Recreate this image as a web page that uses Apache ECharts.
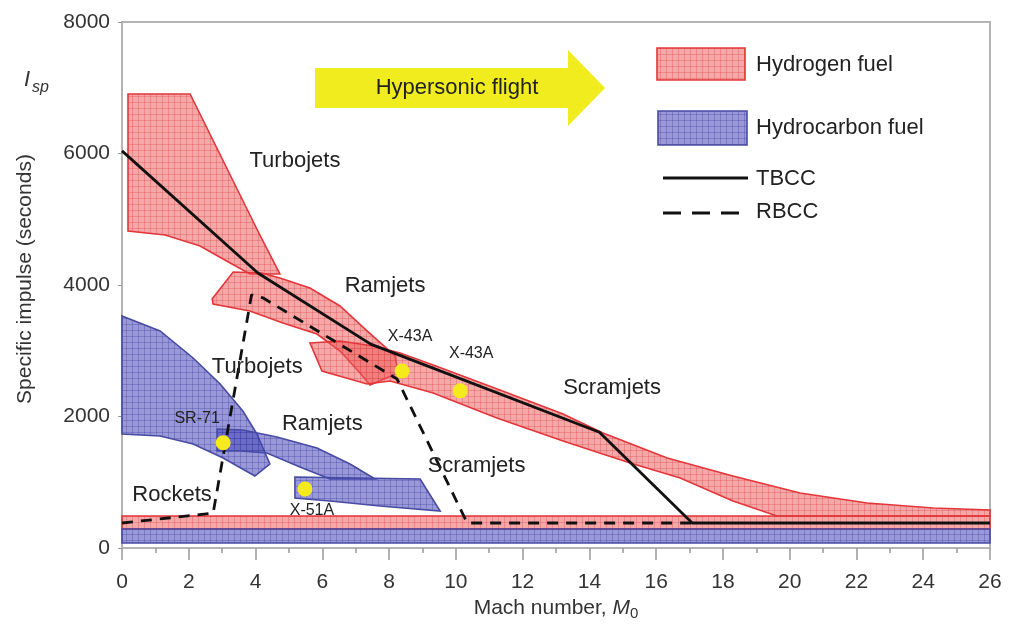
<!DOCTYPE html>
<html><head><meta charset="utf-8">
<script src="https://cdn.jsdelivr.net/npm/echarts@6/dist/echarts.min.js"></script>
<style>html,body{margin:0;padding:0;background:#fff}#c{width:1011px;height:629px}</style>
</head><body><div id="c"></div>
<script>
// ---- data (Mach number, specific impulse in seconds) ----
const h2Turbojet = [[0.18,6905],[2.04,6905],[4.04,4852],[4.1,4790],[4.73,4168],[3.83,4168],[3.24,4335],[2.34,4593],[1.29,4761],[0.18,4822]];
const h2Ramjet = [[3.33,4198],[4.19,4183],[4.73,4107],[5.63,3955],[6.53,3681],[7.34,3301],[8.18,2920],[8.27,2662],[7.43,2479],[7.13,2662],[6.53,2996],[5.84,3255],[4.82,3422],[3.83,3605],[2.73,3711],[2.7,3787]];
const h2Scramjet = [[5.63,3118],[6.53,3148],[7.52,3072],[8.33,2966],[9.32,2783],[11.32,2403],[13.21,2038],[14.41,1749],[16.33,1369],[18.3,1095],[20.31,837],[22.32,684],[24.3,608],[26,578],[26,487],[19.62,487],[18.3,715],[16.72,1065],[15.22,1293],[13.21,1627],[11.23,1977],[9.32,2358],[8.03,2540],[7.34,2494],[5.99,2692]];
const h2Rocket = [[0,487],[26,487],[26,289],[0,289]];
const hcRocket = [[0,289],[26,289],[26,76],[0,76]];
const hcTurbojet = [[0,3529],[1.14,3301],[2.13,2890],[2.94,2494],[3.62,2084],[4.04,1734],[4.43,1278],[3.98,1095],[3.03,1369],[2.13,1582],[1.14,1704],[0,1734]];
const hcRamjet = [[2.85,1810],[3.62,1795],[4.64,1688],[5.84,1521],[6.83,1278],[7.58,1049],[6.23,1049],[5.33,1232],[4.34,1445],[3.54,1475],[2.85,1475]];
const hcScramjetX51 = [[5.18,1080],[8.93,1049],[9.53,563],[7.73,639],[6.23,715],[5.18,761]];
const tbcc = [[0,6040],[4.07,4183],[7.45,3100],[14.3,1760],[17.08,380],[26,380]];
const rbcc = [[0,380],[2.73,530],[3.88,3850],[4.22,3805],[8.24,2570],[10.34,380],[17.08,380]];
const flightPoints = [["SR-71",3.03,1600],["X-51A",5.48,897],["X-43A",8.39,2692],["X-43A",10.13,2390]];
const regionLabels = [["Turbojets",5.18,5886],["Ramjets",7.88,3985],["Scramjets",14.68,2434],["Turbojets",4.05,2753],["Ramjets",6.0,1886],["Scramjets",10.62,1247],["Rockets",1.5,806]];
const craftLabels = [["X-43A",8.63,3209],["X-43A",10.46,2951],["SR-71",2.25,1962],["X-51A",5.69,563]];
const xTicks = [0,26,2];
const yTicks = [0,8000,2000];

// ---- styles ----
function pattern(bg, line){
  const c=document.createElement('canvas'); c.width=6; c.height=6;
  const g=c.getContext('2d'); g.fillStyle=bg; g.fillRect(0,0,6,6);
  g.fillStyle=line; g.fillRect(0,0,6,1); g.fillRect(0,0,1,6);
  return {image:c, repeat:'repeat'};
}
const redFill = pattern('rgba(238,88,88,0.52)','rgba(215,60,60,0.3)');
const blueFill = pattern('rgba(70,70,185,0.55)','rgba(45,45,150,0.28)');
const redStroke = '#e2363a', blueStroke = '#474ba2';
const FONT = '"Liberation Sans", Arial, Helvetica, sans-serif';

function poly(name, pts, fill, stroke, z){
  return {type:'custom', name, coordinateSystem:'cartesian2d', data: pts, z, silent:true,
    encode:{x:0,y:1},
    renderItem:(params, api)=>{
      if(params.dataIndex!==0) return null;
      return {type:'polygon', shape:{points: pts.map(p=>api.coord(p))},
        style:{fill, stroke, lineWidth:1.6}};
    }};
}
function textSeries(name, list, size){
  return {type:'custom', name, coordinateSystem:'cartesian2d', z:8, silent:true,
    data: list.map(d=>[d[1],d[2]]), encode:{x:0,y:1},
    renderItem:(params, api)=>{
      const p = api.coord([api.value(0), api.value(1)]);
      return {type:'text', x:p[0], y:p[1], style:{text:list[params.dataIndex][0], fontSize:size,
        fill:'#222', align:'center', verticalAlign:'middle', fontFamily:FONT}};
    }};
}

const chart = echarts.init(document.getElementById('c'), null, {renderer:'canvas'});
chart.setOption({
  animation:false,
  backgroundColor:'#fff',
  textStyle:{fontFamily:FONT},
  grid:{left:122, top:22, right:21, bottom:81, show:true, borderColor:'#b4b4b4', borderWidth:2, backgroundColor:'transparent'},
  xAxis:{type:'value', min:xTicks[0], max:xTicks[1], interval:xTicks[2],
    name:'Mach number, {i|M}{s|0}', nameLocation:'middle', nameGap:46,
    nameTextStyle:{fontSize:21, color:'#333', fontFamily:FONT,
      rich:{i:{fontSize:21, fontStyle:'italic', color:'#333', fontFamily:FONT}, s:{fontSize:15, color:'#333', padding:[10,0,0,0], fontFamily:FONT}}},
    axisLine:{show:true, lineStyle:{color:'#b4b4b4', width:2}},
    axisTick:{show:true, inside:false, length:12, lineStyle:{color:'#999', width:1.5}},
    minorTick:{show:true, splitNumber:2, length:5, lineStyle:{color:'#999', width:1.5}},
    splitLine:{show:false},
    axisLabel:{fontSize:21, color:'#333', margin:24, fontFamily:FONT, formatter:v=>String(v)}},
  yAxis:{type:'value', min:yTicks[0], max:yTicks[1], interval:yTicks[2],
    name:'Specific impulse (seconds)', nameLocation:'middle', nameGap:86,
    nameTextStyle:{fontSize:21, color:'#333', fontFamily:FONT, padding:[0,0,0,12]},
    axisLine:{show:true, lineStyle:{color:'#b4b4b4', width:2}},
    axisTick:{show:true, length:4, lineStyle:{color:'#999'}},
    splitLine:{show:false},
    axisLabel:{fontSize:21, color:'#333', margin:12, fontFamily:FONT, formatter:v=>String(v)}},
  series:[
    poly('Hydrogen rockets', h2Rocket, redFill, redStroke, 1),
    poly('Hydrocarbon rockets', hcRocket, blueFill, blueStroke, 1),
    poly('Hydrogen turbojets', h2Turbojet, redFill, redStroke, 2),
    poly('Hydrogen ramjets', h2Ramjet, redFill, redStroke, 2),
    poly('Hydrogen scramjets', h2Scramjet, redFill, redStroke, 2),
    poly('Hydrocarbon turbojets', hcTurbojet, blueFill, blueStroke, 2),
    poly('Hydrocarbon ramjets', hcRamjet, blueFill, blueStroke, 2),
    poly('Hydrocarbon scramjets', hcScramjetX51, blueFill, blueStroke, 2),
    {type:'line', name:'TBCC', data:tbcc, showSymbol:false, symbol:'none', z:5, silent:true,
      lineStyle:{color:'#111', width:2.8}},
    {type:'line', name:'RBCC', data:rbcc, showSymbol:false, symbol:'none', z:5, silent:true,
      lineStyle:{color:'#111', width:2.8, type:[11,8]}},
    {type:'scatter', name:'Flights', data:flightPoints.map(d=>({name:d[0], value:[d[1],d[2]]})),
      symbolSize:15, z:6, silent:true, itemStyle:{color:'#f4ea1c', opacity:1}},
    textSeries('Regions', regionLabels, 22),
    textSeries('Craft', craftLabels, 16)
  ],
  graphic:[
    {type:'polygon', shape:{points:[[315,68],[568,68],[568,50],[605,88],[568,126],[568,108],[315,108]]}, style:{fill:'#f1ec1e'}, z:10},
    {type:'text', x:457, y:88, style:{text:'Hypersonic flight', fontSize:22, fill:'#222', align:'center', verticalAlign:'middle', fontFamily:FONT}, z:11},
    {type:'rect', shape:{x:657, y:48, width:88, height:32}, style:{fill:redFill, stroke:redStroke, lineWidth:1.6}, z:10},
    {type:'text', x:756, y:65, style:{text:'Hydrogen fuel', fontSize:22, fill:'#222', verticalAlign:'middle', fontFamily:FONT}, z:11},
    {type:'rect', shape:{x:658, y:111, width:89, height:34}, style:{fill:blueFill, stroke:blueStroke, lineWidth:1.6}, z:10},
    {type:'text', x:756, y:128, style:{text:'Hydrocarbon fuel', fontSize:22, fill:'#222', verticalAlign:'middle', fontFamily:FONT}, z:11},
    {type:'line', shape:{x1:663, y1:178, x2:748, y2:178}, style:{stroke:'#111', lineWidth:3}, z:10},
    {type:'text', x:756, y:179, style:{text:'TBCC', fontSize:22, fill:'#222', verticalAlign:'middle', fontFamily:FONT}, z:11},
    {type:'line', shape:{x1:663, y1:213, x2:741, y2:213}, style:{stroke:'#111', lineWidth:3, lineDash:[18,11]}, z:10},
    {type:'text', x:756, y:212, style:{text:'RBCC', fontSize:22, fill:'#222', verticalAlign:'middle', fontFamily:FONT}, z:11},
    {type:'text', x:24, y:80, style:{text:'I', fontSize:22, fontStyle:'italic', fill:'#333', verticalAlign:'middle', fontFamily:FONT}, z:11},
    {type:'text', x:32, y:88, style:{text:'sp', fontSize:16, fontStyle:'italic', fill:'#333', verticalAlign:'middle', fontFamily:FONT}, z:11}
  ]
});
</script></body></html>
